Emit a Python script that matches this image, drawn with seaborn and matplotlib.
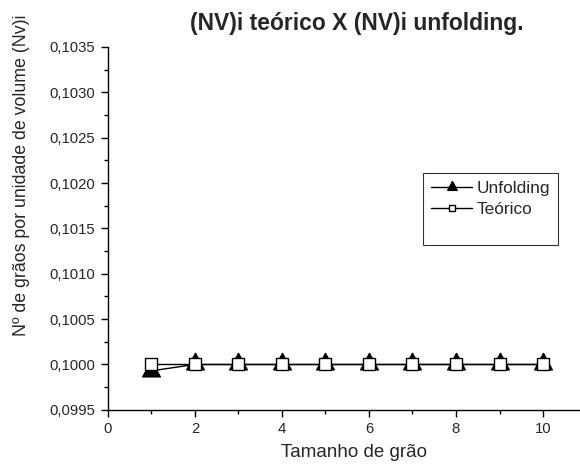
import numpy as np
import pandas as pd
import matplotlib
matplotlib.use('Agg')
import matplotlib.pyplot as plt
from matplotlib.ticker import MultipleLocator, FuncFormatter
import seaborn as sns

tamanho = [1, 2, 3, 4, 5, 6, 7, 8, 9, 10]
unfolding = [0.09993, 0.1, 0.1, 0.1, 0.1, 0.1, 0.1, 0.1, 0.1, 0.1]
teorico = [0.1, 0.1, 0.1, 0.1, 0.1, 0.1, 0.1, 0.1, 0.1, 0.1]

sns.set_style('ticks')
plt.rcParams['font.family'] = ['Liberation Sans', 'DejaVu Sans']

fig = plt.figure(figsize=(5.8, 4.7), dpi=100)
ax = fig.add_axes([0.186, 0.128, 0.814, 0.772])

# triangle sitting a bit high on its point, like the original software draws it
tri = [(0, 11.5), (-9, -5.5), (9, -5.5), (0, 11.5)]
sns.lineplot(x=tamanho, y=unfolding, ax=ax, color='black', lw=1,
             marker=tri, markersize=16.6, markerfacecolor='black',
             markeredgecolor='black', label='Unfolding')
sns.lineplot(x=tamanho, y=teorico, ax=ax, color='black', lw=1,
             marker='s', markersize=8.6, markerfacecolor='white',
             markeredgecolor='black', markeredgewidth=1, label='Teórico')

ax.set_xlim(0, 10.85)
ax.set_ylim(0.0995, 0.1035)
ax.xaxis.set_major_locator(MultipleLocator(2))
ax.xaxis.set_minor_locator(MultipleLocator(1))
ax.yaxis.set_major_locator(MultipleLocator(0.0005))
ax.yaxis.set_minor_locator(MultipleLocator(0.00025))
ax.yaxis.set_major_formatter(FuncFormatter(lambda v, p: f"{v:.4f}".replace('.', ',')))
ax.tick_params(which='major', length=5, width=1, labelsize=10.7, color='black', pad=4)
ax.tick_params(which='minor', length=3, width=1, color='black')
for s in ['top', 'right']:
    ax.spines[s].set_visible(False)
for s in ['left', 'bottom']:
    ax.spines[s].set_color('black')
    ax.spines[s].set_linewidth(1)

ax.set_xlabel('Tamanho de grão', fontsize=13.5)
ax.xaxis.set_label_coords(0.521, -0.094)
ax.set_ylabel('Nº de grãos por unidade de volume (Nv)i', fontsize=12.8)
ax.yaxis.set_label_coords(-0.166, 0.647)
ax.set_title('(NV)i teórico X (NV)i unfolding.', fontsize=16.5, fontweight='bold',
             x=0.528, pad=12)

h, l = ax.get_legend_handles_labels()
blank = plt.Line2D([], [], color='none')
leg = ax.legend(h + [blank], l + [' '], loc='upper left', bbox_to_anchor=(0.668, 0.652),
                fontsize=12.4, frameon=True, fancybox=False, edgecolor='black',
                handlelength=2.4, handletextpad=0.25, borderpad=0.45, labelspacing=0.33,
                markerscale=0.55, borderaxespad=0)
leg.get_frame().set_linewidth(0.8)

fig.savefig('out.png', dpi=100)
